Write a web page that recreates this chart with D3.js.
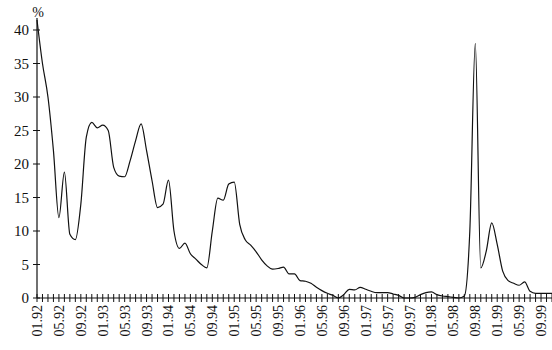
<!DOCTYPE html>
<html>
<head>
<meta charset="utf-8">
<script src="https://cdn.jsdelivr.net/npm/d3@7"></script>
<style>
  body { margin: 0; background: #fff; }
  text { font-family: "Liberation Serif", "DejaVu Serif", serif; fill: #111; }
</style>
</head>
<body>
<div id="chart"></div>
<script>
// monthly values, 01.92 onwards (%)
const values = [
  41.5, 35, 30, 22, 12, 18.8, 9.5, 8.7, 14, 24, 26.2, 25.4,
  25.8, 25, 19.5, 18.2, 18.1, 20.5, 23.5, 26, 22, 17.5, 13.5, 14,
  17.6, 10, 7.4, 8.2, 6.6, 5.8, 5, 4.5, 10, 14.9, 14.6, 17,
  17.3, 11, 8.7, 7.9, 6.9, 5.7, 4.8, 4.3, 4.4, 4.6, 3.6, 3.6,
  2.6, 2.5, 2.2, 1.6, 1.1, 0.7, 0.4, 0, 0.5, 1.3, 1.2, 1.6,
  1.3, 1.0, 0.8, 0.8, 0.8, 0.6, 0.4, 0, 0, 0.1, 0.5, 0.8,
  0.9, 0.5, 0.3, 0.2, 0.1, 0, 0.3, 10, 38, 4.5, 7, 11.2,
  8, 4, 2.6, 2.2, 1.9, 2.4, 1.0, 0.7, 0.7, 0.7, 0.7
];
const yTicks = [0, 5, 10, 15, 20, 25, 30, 35, 40];
const years = ["92", "93", "94", "95", "96", "97", "98", "99"];
const labelMonths = ["01", "05", "09"];

const width = 552, height = 350;
const svg = d3.select("#chart").append("svg")
    .attr("width", width)
    .attr("height", height);

const x = d3.scaleLinear().domain([0, 94]).range([37, 552]);
const y = d3.scaleLinear().domain([0, 40]).range([298, 30]);

// y axis
svg.append("line")
    .attr("x1", 37).attr("x2", 37)
    .attr("y1", y(0)).attr("y2", y(41.8))
    .attr("stroke", "#111").attr("stroke-width", 1.2);
yTicks.forEach(t => {
    svg.append("line")
        .attr("x1", 33).attr("x2", 40)
        .attr("y1", y(t)).attr("y2", y(t))
        .attr("stroke", "#111").attr("stroke-width", 1);
    svg.append("text")
        .attr("x", 29).attr("y", y(t) + 5)
        .attr("text-anchor", "end")
        .style("font-size", "15px")
        .text(t);
});
svg.append("text")
    .attr("x", 38).attr("y", 17)
    .attr("text-anchor", "middle")
    .style("font-size", "14px")
    .text("%");

// x axis
svg.append("line")
    .attr("x1", 37).attr("x2", 552)
    .attr("y1", y(0)).attr("y2", y(0))
    .attr("stroke", "#111").attr("stroke-width", 1.2);
d3.range(0, 95).forEach(i => {
    svg.append("line")
        .attr("x1", x(i)).attr("x2", x(i))
        .attr("y1", y(0) - 4).attr("y2", y(0) + 4)
        .attr("stroke", "#111").attr("stroke-width", 1);
});
const labels = [];
years.forEach(yr => labelMonths.forEach(m => labels.push(m + "." + yr)));
labels.forEach((lab, k) => {
    const xi = x(k * 4);
    svg.append("text")
        .attr("transform", `translate(${xi + 5},${y(0) + 7}) rotate(-90)`)
        .attr("text-anchor", "end")
        .style("font-size", "14px")
        .text(lab);
});

// series line
const line = d3.line()
    .x((d, i) => x(i))
    .y(d => y(d))
    .curve(d3.curveMonotoneX);
svg.append("path")
    .datum(values)
    .attr("d", line)
    .attr("fill", "none")
    .attr("stroke", "#111")
    .attr("stroke-width", 1.2);
</script>
</body>
</html>
